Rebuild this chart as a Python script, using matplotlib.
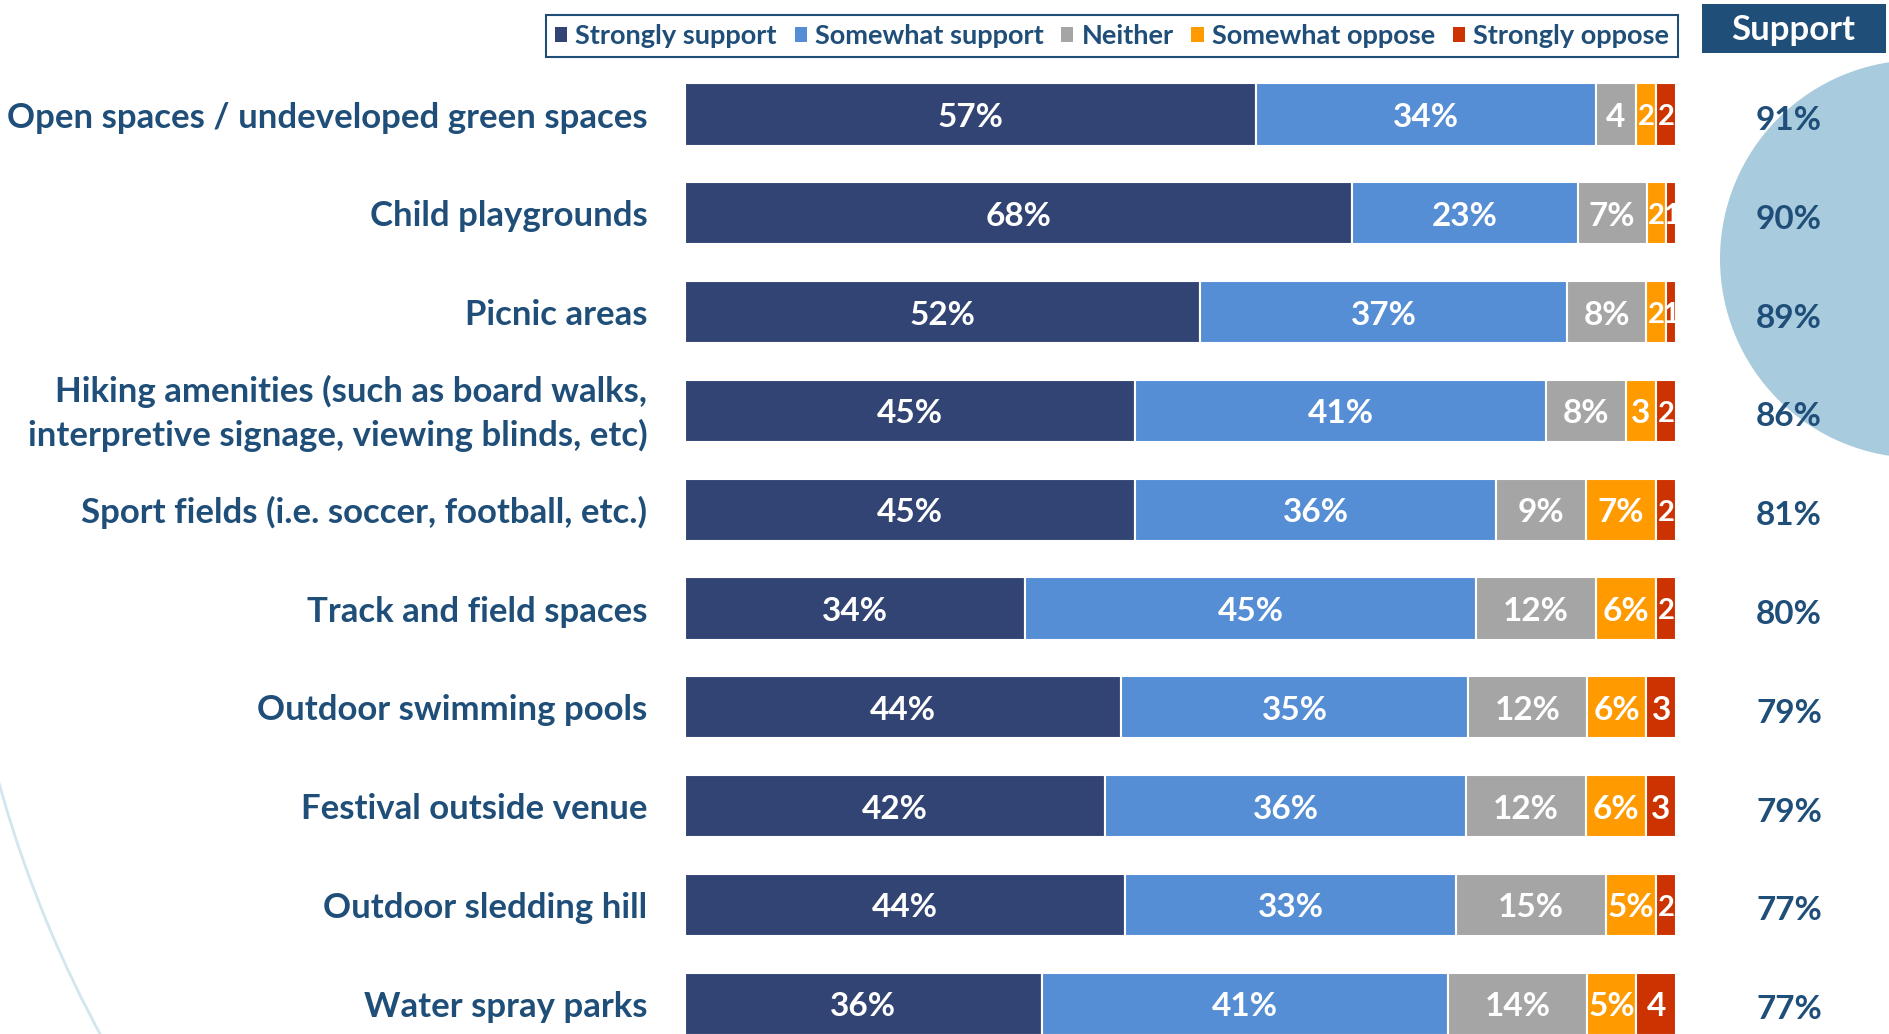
import matplotlib
matplotlib.use("Agg")
import matplotlib.pyplot as plt
import numpy as np
from matplotlib.patches import Patch, Rectangle, Circle, Arc
from matplotlib.transforms import blended_transform_factory, ScaledTranslation

plt.rcParams["font.family"] = ["Lato", "DejaVu Sans"]
plt.rcParams["font.weight"] = "bold"

W, H = 1890, 1034
NAVY = "#1F4E79"
WHITE = "#ffffff"

categories = [
    "Open spaces / undeveloped green spaces",
    "Child playgrounds",
    "Picnic areas",
    "Hiking amenities (such as board walks,\ninterpretive signage, viewing blinds, etc)",
    "Sport fields (i.e. soccer, football, etc.)",
    "Track and field spaces",
    "Outdoor swimming pools",
    "Festival outside venue",
    "Outdoor sledding hill",
    "Water spray parks",
]
series_names = ["Strongly support", "Somewhat support", "Neither",
                "Somewhat oppose", "Strongly oppose"]
strongly_support = [57, 68, 52, 45, 45, 34, 44, 42, 44, 36]
somewhat_support = [34, 23, 37, 41, 36, 45, 35, 36, 33, 41]
neither = [4, 7, 8, 8, 9, 12, 12, 12, 15, 14]
somewhat_oppose = [2, 2, 2, 3, 7, 6, 6, 6, 5, 5]
strongly_oppose = [2, 1, 1, 2, 2, 2, 3, 3, 2, 4]
support_total = [91, 90, 89, 86, 81, 80, 79, 79, 77, 77]

colors = ["#324473", "#558ED5", "#A5A5A5", "#FF9A00", "#CC3300"]

values = np.array([strongly_support, somewhat_support, neither,
                   somewhat_oppose, strongly_oppose], dtype=float)
# bars are drawn as 100% stacked rows
shares = values / values.sum(axis=0) * 100

fig = plt.figure(figsize=(W / 100, H / 100), dpi=100)
fig.patch.set_facecolor(WHITE)

# decoration layer in pixel coordinates
bg = fig.add_axes([0, 0, 1, 1], zorder=0)
bg.set_xlim(0, W)
bg.set_ylim(0, H)
bg.axis("off")
bg.add_patch(Circle((1919, H - 259), 199, facecolor="#A8CBDE", edgecolor="none"))
bg.add_patch(Arc((1163, H - 460), 2 * 1208, 2 * 1208, theta1=190, theta2=215,
                 color="#D3E6F0", linewidth=2))
bg.add_patch(Rectangle((1702, H - 53), 184, 49, facecolor=NAVY, edgecolor="none"))
bg.text(1793, H - 30, "Support", color=WHITE, fontsize=25, fontweight="bold",
        ha="center", va="center")

# bar area
x0, x1 = 685, 1676
row0, step = 114.5, 98.8
ax = fig.add_axes([x0 / W, 0, (x1 - x0) / W, 1], zorder=1)
ax.patch.set_alpha(0)
y = np.arange(len(categories))
left = np.zeros(len(categories))
for name, share, raw, color in zip(series_names, shares, values, colors):
    ax.barh(y, share, left=left, height=0.63, color=color, edgecolor=WHITE,
            linewidth=1.5, label=name)
    for yi, l, s, v in zip(y, left, share, raw):
        txt = f"{v:.0f}%" if v >= 5 else f"{v:.0f}"
        size = 24 if v >= 3 else 21
        ax.text(l + s / 2, yi + 0.03, txt, color=WHITE, fontsize=size,
                fontweight="bold", ha="center", va="center")
    left += share

ax.set_xlim(0, 100)
ax.set_ylim((H - row0) / step, -row0 / step)
ax.set_yticks(y)
ax.set_yticklabels(categories, fontsize=25, fontweight="bold", color=NAVY,
                   linespacing=1.4)
ax.tick_params(axis="y", length=0, pad=27)
ax.set_xticks([])
for sp in ax.spines.values():
    sp.set_visible(False)
# two-line label sits a touch high in the original
lbl = ax.get_yticklabels()[3]
lbl.set_transform(lbl.get_transform() + ScaledTranslation(0, 4 / 72, fig.dpi_scale_trans))

# support column
tr = blended_transform_factory(fig.transFigure, ax.transData)
for yi, s in zip(y, support_total):
    ax.text(1789 / W, yi + 0.06, f"{s}%", transform=tr, color=NAVY, fontsize=24,
            fontweight="bold", ha="center", va="center", clip_on=False)

handles = [Patch(facecolor=c, edgecolor="none") for c in colors]
leg = fig.legend(handles, series_names, ncol=5, mode="expand",
                 bbox_to_anchor=(532 / W, 1 - 61 / H, 1160 / W, 50 / H),
                 loc="center", fontsize=19.5, labelcolor=NAVY,
                 handlelength=0.45, handleheight=0.45, handletextpad=0.3,
                 columnspacing=0.4, borderpad=0.35, fancybox=False,
                 framealpha=1, edgecolor=NAVY)
leg.get_frame().set_linewidth(1.5)
for t in leg.get_texts():
    t.set_fontweight("bold")

fig.savefig("out.png", dpi=100, facecolor=WHITE)
